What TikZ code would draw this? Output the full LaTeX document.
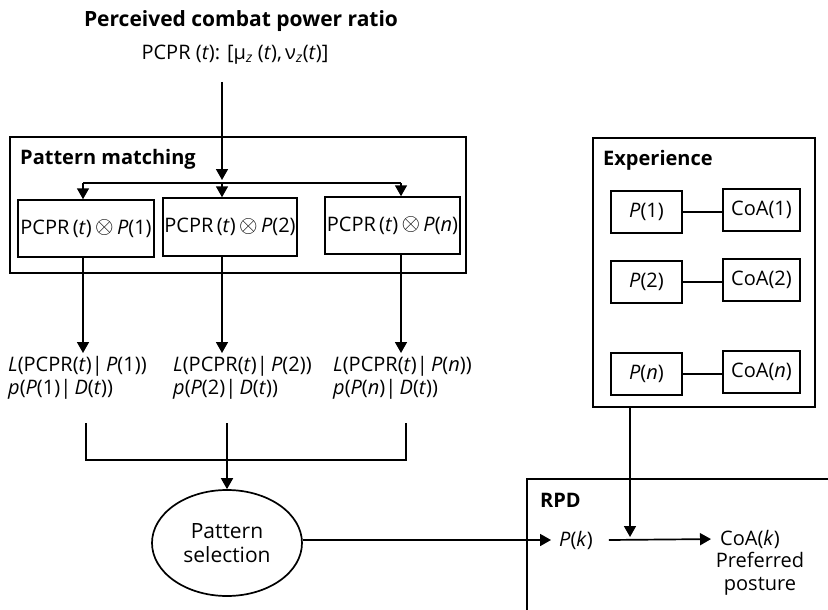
\documentclass[tikz,border=0pt]{standalone}
\usepackage{fontspec}
\setmainfont{Open Sans}
\usetikzlibrary{arrows.meta,shapes.geometric}
\tikzset{
  txt/.style={inner sep=0pt, font=\fontsize{20}{23}\selectfont},
  hd/.style={inner sep=0pt, font=\fontsize{20}{23}\selectfont\bfseries},
  frame/.style={draw, line width=1.7pt, inner sep=0pt},
  box/.style={draw, line width=1.5pt, inner sep=0pt, font=\fontsize{20}{23}\selectfont},
  ln/.style={line width=1.7pt},
  arr/.style={line width=1.7pt, -{Triangle[length=11pt,width=12pt]}},
}
\newcommand{\ii}[1]{\textit{#1}}
\newcommand{\ox}{\raisebox{0.5pt}{\scalebox{1.15}{$\otimes$}}}
\begin{document}
\begin{tikzpicture}[x=1pt,y=-1pt]
\useasboundingbox (0,0) rectangle (828,610);
% top texts
\node[hd, font=\fontsize{21}{24}\selectfont\bfseries] (title) at (241,21) {Perceived combat power ratio};
\node[txt] (pcpr) at (235,55) {PCPR (\ii{t}): [μ\textsubscript{\ii{z}} (\ii{t}),\,ν\textsubscript{\ii{z}}(\ii{t})]};
% pattern matching
\node[frame, minimum width=456, minimum height=136] (pm) at (238,205) {};
\node[hd, anchor=west] (pmlab) at (20,159) {Pattern matching};
\node[box, minimum width=136, minimum height=57] (b1) at (86,228.5) {PCPR\,(\ii{t})\,\ox\,\ii{P}(1)};
\node[box, minimum width=134, minimum height=58] (b2) at (230,227) {PCPR\,(\ii{t})\,\ox\,\ii{P}(2)};
\node[box, minimum width=135, minimum height=57] (bn) at (392.5,225.5) {PCPR\,(\ii{t})\,\ox\,\ii{P}(\ii{n})};
\coordinate (j1) at (83,183);
\coordinate (j2) at (222,183);
\coordinate (jn) at (401,183);
\draw[arr] (j2 |- 0,82) -- (222,180);
\draw[ln] (j1) -- (jn);
\draw[arr] (j1) -- (j1 |- b1.north);
\draw[arr] (j2) -- (j2 |- b2.north);
\draw[arr] (jn) -- (jn |- bn.north);
% likelihood labels
\node[txt, anchor=north west, align=left] (l1) at (8,356) {\ii{L}(PCPR(\ii{t})|\,\ii{P}(1))\\\ii{p}(\ii{P}(1)|\,\ii{D}(\ii{t}))};
\node[txt, anchor=north west, align=left] (l2) at (173,356) {\ii{L}(PCPR(\ii{t})|\,\ii{P}(2))\\\ii{p}(\ii{P}(2)|\,\ii{D}(\ii{t}))};
\node[txt, anchor=north west, align=left] (ln3) at (333,356) {\ii{L}(PCPR(\ii{t})|\,\ii{P}(\ii{n}))\\\ii{p}(\ii{P}(\ii{n})|\,\ii{D}(\ii{t}))};
\draw[arr] (j1 |- b1.south) -- (83,353);
\draw[arr] (j2 |- b2.south) -- (222,353);
\draw[arr] (jn |- bn.south) -- (401,353);
\coordinate (m1) at (86,460);
\coordinate (m2) at (227,460);
\coordinate (mn) at (406,460);
\draw[ln] (86,423) -- (m1) -- (mn) -- (406,423);
% selection
\node[ellipse, draw, line width=1.7pt, minimum width=150, minimum height=106, inner sep=0pt, align=center, font=\fontsize{21}{24}\selectfont] (sel) at (227,543) {Pattern\\selection};
\draw[arr] (227,423) -- (sel.north);
% RPD
\node[frame, anchor=north west, minimum width=330, minimum height=160] (rpd) at (526,478) {};
\node[hd, anchor=west] (rpdlab) at (540,500) {RPD};
\node[txt] (pk) at (576,540) {\ii{P}(\ii{k})};
\node[txt] (coak) at (750,539) {CoA(\ii{k})};
\node[txt, align=center, anchor=north] (pref) at (760,552) {Preferred\\posture};
\draw[arr, shorten >=8pt] (sel.east |- 0,540) -- (pk.west);
\coordinate (kj) at (630,540);
\draw[arr, shorten >=9pt] (pk.east) ++(16,0) -- (coak.west);
% Experience
\node[frame, minimum width=222, minimum height=269] (exp) at (704,272.5) {};
\node[hd, anchor=west] (explab) at (603,160) {Experience};
\node[box, minimum width=71, minimum height=42] (p1) at (646.5,212) {\ii{P}(1)};
\node[box, minimum width=77, minimum height=42] (c1) at (761.5,210) {CoA(1)};
\node[box, minimum width=71, minimum height=42] (p2) at (646.5,282) {\ii{P}(2)};
\node[box, minimum width=77, minimum height=42] (c2) at (761.5,280) {CoA(2)};
\node[box, minimum width=71, minimum height=42] (pn) at (646.5,374) {\ii{P}(\ii{n})};
\node[box, minimum width=77, minimum height=42] (cn) at (761.5,372) {CoA(\ii{n})};
\draw[ln] (p1.east) -- (c1.west |- p1.east);
\draw[ln] (p2.east) -- (c2.west |- p2.east);
\draw[ln] (pn.east) -- (cn.west |- pn.east);
\draw[arr] (exp.south -| kj) -- (630,537);
\end{tikzpicture}
\end{document}
